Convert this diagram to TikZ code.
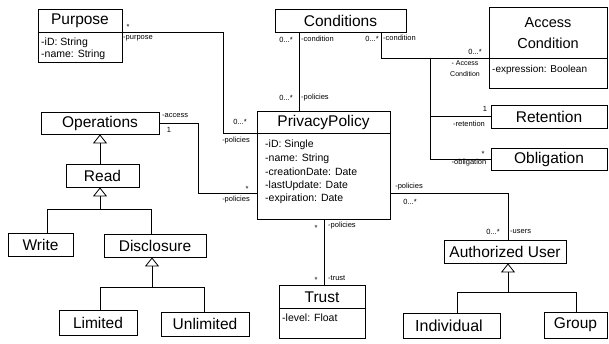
\documentclass[tikz,border=0pt]{standalone}
\usepackage{fontspec}
\setmainfont{Liberation Sans}
\usetikzlibrary{arrows.meta}
\tikzset{
  cls/.style={draw, line width=0.8pt, inner sep=0pt, fill=white},
  cname/.style={inner sep=0pt, font=\fontsize{15.5}{17}\selectfont},
  attr/.style={inner sep=0pt, anchor=west, font=\fontsize{10.5}{12}\selectfont},
  lbl/.style={inner sep=0pt, font=\fontsize{7.5}{9}\selectfont},
  conn/.style={line width=0.8pt},
  gen/.style={line width=0.8pt, -{Triangle[open, length=9pt, width=14pt]}},
}
\newcommand{\clsbox}[6]{% name, x1, y1, x2, y2, extra
  \node[cls, minimum width={(#4-#2)*1pt}, minimum height={(#5-#3)*1pt}, #6] (#1) at ({(#2+#4)/2},{(#3+#5)/2}) {};}
\begin{document}
\begin{tikzpicture}[x=1pt, y=-1pt]
\useasboundingbox (0,0) rectangle (609,343);
\coordinate (pc1) at (223,32);
\coordinate (pc2) at (223,133);
% boxes
\clsbox{purpose}{38}{9}{122}{62}{}
\clsbox{conditions}{275}{9}{406}{32}{}
\clsbox{access}{489}{7}{607}{88}{}
\clsbox{retention}{491}{105}{607}{128}{}
\clsbox{obligation}{491}{148}{607}{170}{}
\clsbox{operations}{41}{112}{159}{134}{}
\clsbox{read}{66}{164}{139}{187}{}
\clsbox{write}{8}{233}{73}{256}{}
\clsbox{disclosure}{104}{234}{206}{257}{}
\clsbox{limited}{59}{310}{137}{335}{}
\clsbox{unlimited}{161}{312}{249}{336}{}
\clsbox{pp}{257}{111}{390}{219}{}
\clsbox{trust}{279}{285}{365}{338}{}
\clsbox{authuser}{444}{240}{566}{263}{}
\clsbox{individual}{403}{313}{500}{338}{}
\clsbox{group}{544}{312}{607}{338}{}
% dividers
\draw[conn] (purpose.west |- 0,32) -- (purpose.east |- 0,32);
\draw[conn] (access.west |- 0,58) -- (access.east |- 0,58);
\draw[conn] (pp.west |- 0,133) -- (pp.east |- 0,133);
\draw[conn] (trust.west |- 0,308) -- (trust.east |- 0,308);
% class names
\node[cname] (tpurpose) at (80,21) {Purpose};
\node[cname] (tconditions) at (340.5,21) {Conditions};
\node[inner sep=0pt, align=center, font=\fontsize{14.5}{21}\selectfont] (taccess) at (548,33) {Access\\Condition};
\node[cname] (tretention) at (549,117) {Retention};
\node[cname] (tobligation) at (549,159) {Obligation};
\node[cname] (toperations) at (100,123) {Operations};
\node[cname] (tread) at (102.5,176) {Read};
\node[cname] (twrite) at (40.5,245) {Write};
\node[cname] (tdisclosure) at (155,246) {Disclosure};
\node[cname] (tlimited) at (98,323) {Limited};
\node[cname] (tunlimited) at (205,324) {Unlimited};
\node[cname] (tpp) at (323.5,122.5) {PrivacyPolicy};
\node[cname] (ttrust) at (322,297) {Trust};
\node[cname] (tauthuser) at (505,252) {Authorized User};
\node[inner sep=0pt, font=\fontsize{16}{18}\selectfont] (tindividual) at (449,325.5) {Individual};
\node[cname] (tgroup) at (575.5,325) {Group};
% attributes
\node[attr] (a1) at (41,43) {-iD: String};
\node[attr] (a2) at (41,55) {-name: String};
\node[attr, font=\fontsize{10}{12}\selectfont] (a3) at (492,70) {-expression: Boolean};
\node[attr] (a4) at (265,145) {-iD: Single};
\node[attr] (a5) at (265,158.5) {-name: String};
\node[attr] (a6) at (265,172) {-creationDate: Date};
\node[attr] (a7) at (265,185.5) {-lastUpdate: Date};
\node[attr] (a8) at (265,199) {-expiration: Date};
\node[attr] (a9) at (282,318) {-level: Float};
% associations
\draw[conn] (purpose.east |- pc1) -- (pc1) -- (pc2) -- (pp.west |- pc2);
\draw[conn] (conditions.south -| 299,0) -- (pp.north -| 299,0);
\coordinate (cj) at (381,58);
\coordinate (bj) at (430,58);
\draw[conn] (conditions.south -| cj) -- (cj) -- (access.west |- cj);
\draw[conn] (bj) |- (obligation.west);
\draw[conn] (retention.west -| bj) -- (retention.west);
\coordinate (oj) at (198,193);
\draw[conn] (operations.east) -| (oj) -- (pp.west |- oj);
\coordinate (uj) at (508,193);
\draw[conn] (pp.east |- uj) -- (uj) -- (authuser.north -| uj);
\draw[conn] (pp.south -| 324,0) -- (trust.north -| 324,0);
% generalizations
\coordinate (g1) at (100,209);
\draw[gen] (read.north -| g1) -- (operations.south -| g1);
\draw[gen] (write.north -| 47,0) |- (g1) -- (read.south -| g1);
\draw[conn] (disclosure.north -| 151,0) |- (g1);
\coordinate (g2) at (152,287);
\draw[gen] (limited.north -| 100,0) |- (g2) -- (disclosure.south -| g2);
\draw[conn] (unlimited.north -| 204,0) |- (g2);
\coordinate (g3) at (508,292);
\draw[gen] (individual.north -| 457,0) |- (g3) -- (authuser.south -| g3);
\draw[conn] (group.north -| 576,0) |- (g3);
% labels
\node[lbl] (l1) at (128,27) {*};
\node[lbl, anchor=west] (l2) at (123,38) {-purpose};
\node[lbl] (l3) at (240,122) {0...*};
\node[lbl] (l4) at (236,141) {-policies};
\node[lbl, anchor=west] (l5) at (162,116) {-access};
\node[lbl] (l6) at (169,130) {1};
\node[lbl] (l7) at (247,189) {*};
\node[lbl] (l8) at (236,200) {-policies};
\node[lbl] (l9) at (286,40) {0...*};
\node[lbl, anchor=west] (l10) at (301,39) {-condition};
\node[lbl] (l11) at (286,98) {0...*};
\node[lbl, anchor=west] (l12) at (301,98) {-policies};
\node[lbl] (l13) at (372,39) {0...*};
\node[lbl, anchor=west] (l14) at (383,38) {-condition};
\node[lbl] (l15) at (475,52) {0...*};
\node[lbl, align=center, font=\fontsize{7}{11}\selectfont] (l16) at (465,69) {- Access\\Condition};
\node[lbl] (l17) at (485,109) {1};
\node[lbl] (l18) at (469,124) {-retention};
\node[lbl] (l19) at (483,154) {*};
\node[lbl] (l20) at (469,163) {-obligation};
\node[lbl] (l21) at (409,187) {-policies};
\node[lbl] (l22) at (410,202) {0...*};
\node[lbl] (l23) at (493,232) {0...*};
\node[lbl, anchor=west] (l24) at (510,232) {-users};
\node[lbl] (l25) at (316,228) {*};
\node[lbl, anchor=west] (l26) at (328,226) {-policies};
\node[lbl] (l27) at (316,280) {*};
\node[lbl, anchor=west] (l28) at (328,278) {-trust};
\end{tikzpicture}
\end{document}
